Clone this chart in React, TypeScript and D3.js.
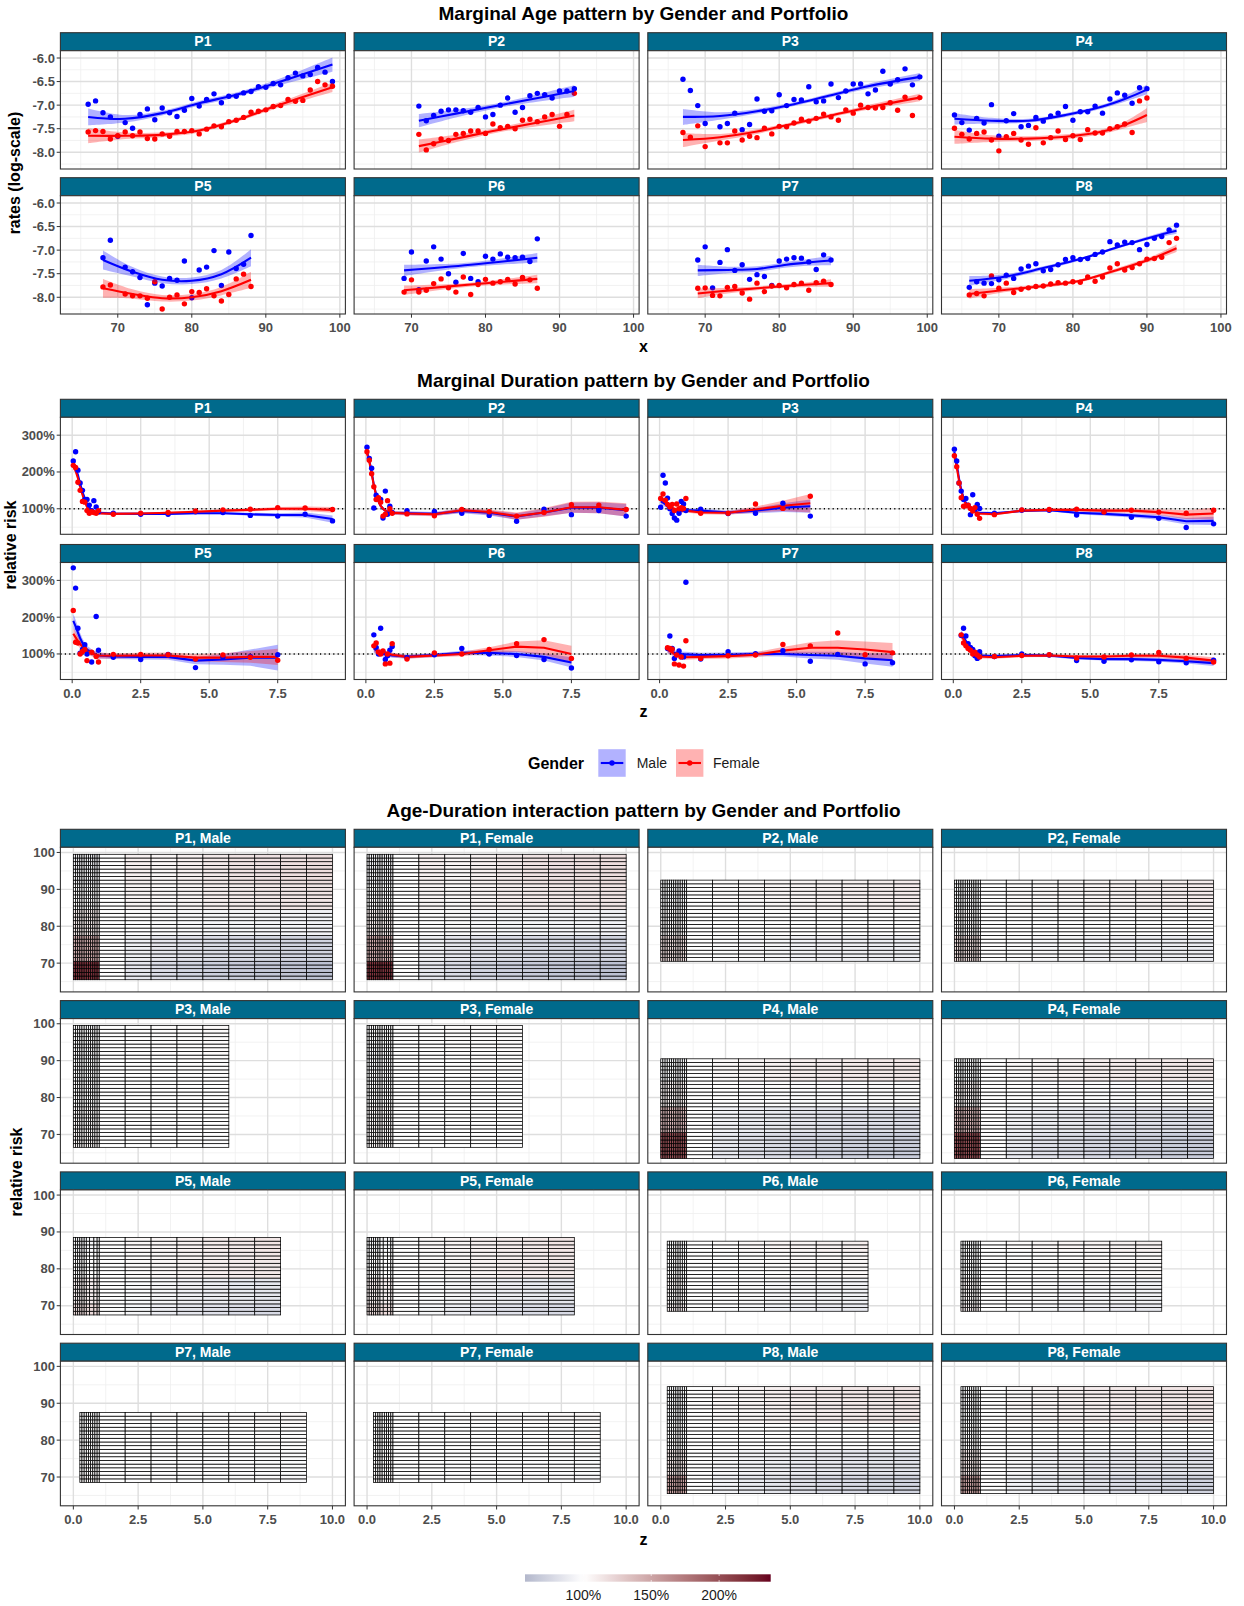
import React from "react";
import * as d3 from "d3";

const FONT = "'Liberation Sans', Arial, Helvetica, sans-serif";

// ---------------- DATA ----------------
const PORTFOLIOS = ["P1", "P2", "P3", "P4", "P5", "P6", "P7", "P8"];
const GENDERS = ["Male", "Female"];
const GENDER_COLORS = ["#0000ff", "#ff0000"];

// Marginal age pattern: log-rates per integer age, first age in AGE_START
const AGE_START = [66, 71, 67, 64, 68, 69, 69, 66];
const AGE_MALE_P1 = [-6.98, -6.91, -7.16, -7.25, -7.66, -7.37, -7.49, -7.2, -7.08, -7.31, -7.06, -7.16, -7.24, -7.11, -6.86, -7.02, -6.88, -6.76, -6.95, -6.81, -6.81, -6.74, -6.71, -6.61, -6.62, -6.54, -6.57, -6.42, -6.32, -6.38, -6.35, -6.2, -6.3, -6.5];
const AGE_FEMALE_P1 = [-7.57, -7.54, -7.56, -7.72, -7.65, -7.57, -7.65, -7.57, -7.71, -7.72, -7.61, -7.66, -7.56, -7.56, -7.54, -7.61, -7.51, -7.44, -7.46, -7.35, -7.32, -7.26, -7.15, -7.13, -7.1, -7.03, -7.01, -6.88, -6.92, -6.9, -6.68, -6.5, -6.57, -6.6];
const AGE_MALE_P2 = [-7.02, -7.33, -7.22, -7.13, -7.1, -7.1, -7.12, -7.15, -7.05, -7.25, -7.2, -7.0, -6.85, -7.15, -7.05, -6.8, -6.75, -6.78, -6.85, -6.7, -6.7, -6.65];
const AGE_FEMALE_P2 = [-7.62, -7.95, -7.82, -7.72, -7.75, -7.62, -7.6, -7.55, -7.55, -7.6, -7.4, -7.48, -7.45, -7.5, -7.32, -7.3, -7.35, -7.25, -7.2, -7.45, -7.2, -6.75];
const AGE_MALE_P3 = [-6.45, -6.69, -7.01, -7.39, null, -7.46, -7.39, -7.17, -7.52, -7.41, -6.87, -7.13, -7.12, -6.78, -7.01, -6.88, -6.89, -6.61, -6.93, -6.91, -6.55, -6.84, -6.7, -6.55, -6.55, -6.76, -6.68, -6.28, -6.55, -6.46, -6.23, -6.57, -6.4];
const AGE_FEMALE_P3 = [-7.58, -7.68, -7.44, -7.88, null, -7.8, -7.8, -7.55, -7.74, -7.66, -7.69, -7.49, -7.61, -7.45, -7.46, -7.38, -7.3, -7.34, -7.28, -7.19, -7.25, -7.32, -7.1, -7.17, -7.0, -7.05, -7.06, -7.05, -6.95, -7.11, -6.83, -7.22, -6.84];
const AGE_MALE_P4 = [-7.21, -7.37, -7.53, -7.28, -7.38, -6.99, -7.66, -7.33, -7.18, -7.46, -7.43, -7.26, -7.34, -7.23, -7.17, -7.03, -7.32, -7.14, -7.14, -7.02, -7.17, -6.87, -6.74, -6.79, -6.96, -6.63, -6.65];
const AGE_FEMALE_P4 = [-7.49, -7.62, -7.72, -7.6, -7.57, -7.74, -7.97, -7.67, -7.6, -7.74, -7.83, -7.48, -7.8, -7.69, -7.55, -7.73, -7.65, -7.73, -7.52, -7.59, -7.59, -7.5, -7.46, -7.4, -7.58, -6.91, -6.85];
const AGE_MALE_P5 = [-7.16, -6.79, null, -7.36, -7.46, -7.58, -8.16, -7.7, -7.76, -7.6, -7.64, -7.23, -8.01, -7.42, -7.36, -7.01, -7.75, -7.04, -7.39, -7.3, -6.69];
const AGE_FEMALE_P5 = [-7.78, -7.74, null, -7.93, -7.97, -7.97, -8.02, -7.67, -8.25, -8.0, -7.95, -8.14, -7.88, -7.9, -7.82, -7.97, -8.08, -7.94, -7.61, -7.51, -7.77];
const AGE_MALE_P6 = [-7.6, -7.04, -7.84, -7.23, -6.93, -7.19, -7.5, -7.68, -7.07, -7.6, -7.67, -7.13, -7.19, -7.08, -7.15, -7.16, -7.15, -7.24, -6.76];
const AGE_FEMALE_P6 = [-7.89, -7.63, -7.89, -7.85, -7.71, -7.61, -7.8, -7.89, -7.57, -7.94, -7.73, -7.62, -7.7, -7.67, -7.62, -7.72, -7.58, -7.63, -7.81];
const AGE_MALE_P7 = [-7.21, -6.93, -7.8, -7.26, -6.99, -7.43, -7.31, -7.62, -7.52, -7.56, -7.75, -7.23, -7.19, -7.16, -7.17, -7.25, -7.41, -7.1, -7.21];
const AGE_FEMALE_P7 = [-7.81, -7.8, -7.96, -7.97, -7.79, -7.77, -7.91, -8.04, -7.7, -7.88, -7.76, -7.75, -7.8, -7.73, -7.7, -7.85, -7.69, -7.66, -7.73];
const AGE_MALE_P8 = [-7.79, -7.67, -7.7, -7.71, -7.63, -7.53, -7.6, -7.4, -7.34, -7.29, -7.44, -7.41, -7.31, -7.2, -7.16, -7.2, -7.18, -7.09, -7.04, -6.82, -6.89, -6.83, -6.84, -6.99, -6.88, -6.75, -6.71, -6.57, -6.47];
const AGE_FEMALE_P8 = [-7.95, -7.92, -7.97, -7.55, -7.81, -7.7, -7.9, -7.83, -7.8, -7.77, -7.76, -7.72, -7.69, -7.7, -7.67, -7.68, -7.57, -7.66, -7.57, -7.38, -7.29, -7.42, -7.37, -7.29, -7.19, -7.18, -7.15, -6.84, -6.75];
const AGE_MALE = [AGE_MALE_P1, AGE_MALE_P2, AGE_MALE_P3, AGE_MALE_P4, AGE_MALE_P5, AGE_MALE_P6, AGE_MALE_P7, AGE_MALE_P8];
const AGE_FEMALE = [AGE_FEMALE_P1, AGE_FEMALE_P2, AGE_FEMALE_P3, AGE_FEMALE_P4, AGE_FEMALE_P5, AGE_FEMALE_P6, AGE_FEMALE_P7, AGE_FEMALE_P8];

// Smoothed age curves at knot ages, with confidence half-widths
const AGE_FIT_AGES = [
  [66, 71, 76, 81, 86, 91, 99],
  [71, 76, 81, 86, 92],
  [67, 72, 77, 82, 87, 92, 99],
  [64, 69, 74, 79, 84, 87, 90],
  [68, 72, 76, 80, 84, 88],
  [69, 78, 87],
  [69, 73, 77, 81, 84, 87],
  [66, 71, 76, 81, 86, 91, 94],
];
const AGE_FIT_MALE = [
  [-7.25, -7.29, -7.17, -6.96, -6.78, -6.55, -6.14],
  [-7.33, -7.18, -7.03, -6.88, -6.7],
  [-7.25, -7.23, -7.13, -6.98, -6.79, -6.6, -6.4],
  [-7.29, -7.33, -7.33, -7.21, -7.03, -6.87, -6.67],
  [-7.21, -7.46, -7.63, -7.65, -7.51, -7.16],
  [-7.43, -7.31, -7.16],
  [-7.43, -7.42, -7.4, -7.31, -7.26, -7.22],
  [-7.65, -7.56, -7.38, -7.19, -6.94, -6.71, -6.59],
];
const AGE_FIT_FEMALE = [
  [-7.65, -7.65, -7.63, -7.54, -7.32, -7.04, -6.62],
  [-7.87, -7.71, -7.55, -7.4, -7.22],
  [-7.74, -7.68, -7.56, -7.39, -7.22, -7.05, -6.84],
  [-7.67, -7.71, -7.71, -7.67, -7.56, -7.42, -7.21],
  [-7.81, -7.93, -8.02, -8.0, -7.87, -7.63],
  [-7.85, -7.73, -7.61],
  [-7.92, -7.86, -7.81, -7.76, -7.73, -7.7],
  [-7.93, -7.84, -7.76, -7.65, -7.42, -7.16, -6.96],
];
const AGE_BAND_MALE = [
  [0.18, 0.08, 0.05, 0.05, 0.05, 0.06, 0.15],
  [0.14, 0.08, 0.05, 0.07, 0.12],
  [0.17, 0.08, 0.05, 0.04, 0.04, 0.05, 0.08],
  [0.12, 0.06, 0.04, 0.04, 0.04, 0.06, 0.1],
  [0.2, 0.1, 0.07, 0.07, 0.09, 0.18],
  [0.12, 0.05, 0.1],
  [0.12, 0.07, 0.06, 0.06, 0.07, 0.1],
  [0.1, 0.05, 0.04, 0.03, 0.03, 0.04, 0.06],
];
const AGE_BAND_FEMALE = [
  [0.16, 0.07, 0.05, 0.04, 0.04, 0.05, 0.1],
  [0.14, 0.08, 0.05, 0.07, 0.12],
  [0.15, 0.07, 0.05, 0.04, 0.04, 0.05, 0.08],
  [0.15, 0.07, 0.05, 0.05, 0.05, 0.07, 0.15],
  [0.2, 0.1, 0.07, 0.07, 0.09, 0.17],
  [0.1, 0.04, 0.09],
  [0.1, 0.06, 0.04, 0.04, 0.05, 0.08],
  [0.1, 0.05, 0.04, 0.03, 0.04, 0.05, 0.08],
];

// Marginal duration pattern (relative risk, %)
const Z_MONTHS = [0.04, 0.125, 0.21, 0.29, 0.375, 0.46, 0.54, 0.625, 0.71, 0.79, 0.875, 0.96];
const Z_YEARS = [1.5, 2.5, 3.5, 4.5, 5.5, 6.5, 7.5, 8.5, 9.5];
const DUR_MONTHS = [
  [0, 1, 2, 3, 4, 5, 6, 7, 8, 9, 10, 11],
  [0, 1, 2, 3, 4, 5, 6, 7, 8, 9, 10, 11],
  [0, 1, 2, 3, 4, 5, 6, 7, 8, 9, 10, 11],
  [0, 1, 2, 3, 4, 5, 6, 7, 8, 9, 10, 11],
  [0, 1, 2, 3, 4, 5, 6, 8, 10, 11],
  [3, 4, 5, 6, 7, 8, 9, 10, 11],
  [3, 4, 5, 6, 7, 8, 9, 10, 11],
  [3, 4, 5, 6, 7, 8, 9, 10, 11],
];
const DUR_YEARS = [9, 9, 5, 9, 7, 7, 8, 9];

const DUR_M_PTS_P1 = [230, 255, 205, 170, 150, 125, 125, 110, 95, 122, 105, 92, 88, 85, 85, 92, 90, 82, 80, 85, 67];
const DUR_M_FIT_P1 = [225, 212, 192, 168, 146, 128, 114, 104, 97, 93, 90, 89, 87, 86, 86, 88, 88, 85, 83, 83, 72];
const DUR_M_SE_P1 = [8, 7, 6, 5, 5, 4, 4, 4, 4, 4, 4, 4, 3, 3, 3, 3, 3, 4, 5, 7, 10];
const DUR_F_PTS_P1 = [218, 212, 172, 150, 120, 118, 95, 88, 92, 90, 88, 95, 85, 88, 90, 94, 97, 99, 103, 102, 98];
const DUR_F_FIT_P1 = [215, 203, 183, 160, 138, 119, 105, 96, 92, 90, 89, 88, 86, 87, 89, 92, 95, 97, 100, 100, 97];
const DUR_F_SE_P1 = [8, 7, 6, 5, 5, 4, 4, 4, 4, 4, 4, 4, 3, 3, 3, 3, 3, 4, 5, 6, 8];

const DUR_M_PTS_P2 = [267, 237, 210, 102, 137, 128, 125, 75, 148, 85, 107, 90, 95, 93, 88, 82, 66, 99, 84, 95, 80];
const DUR_M_FIT_P2 = [255, 232, 200, 165, 138, 120, 108, 100, 95, 92, 90, 89, 88, 86, 94, 89, 79, 90, 103, 103, 96];
const DUR_M_SE_P2 = [10, 9, 8, 7, 6, 6, 5, 5, 5, 5, 5, 5, 5, 5, 6, 7, 9, 10, 14, 15, 17];
const DUR_F_PTS_P2 = [255, 232, 195, 160, 125, 130, 118, 80, 85, 122, 100, 88, 86, 81, 98, 92, 80, 90, 111, 110, 98];
const DUR_F_FIT_P2 = [250, 228, 196, 163, 137, 120, 108, 100, 95, 92, 90, 89, 87, 85, 96, 91, 80, 90, 104, 104, 97];
const DUR_F_SE_P2 = [10, 9, 8, 7, 6, 6, 5, 5, 5, 5, 5, 5, 5, 5, 6, 7, 10, 12, 15, 16, 18];

const DUR_M_PTS_P3 = [104, 191, 170, 129, 100, 87, 75, 69, 88, 120, 113, 95, 99, 87, 88, 115, 80];
const DUR_M_FIT_P3 = [120, 117, 112, 106, 101, 97, 94, 93, 93, 94, 95, 96, 95, 90, 95, 103, 107];
const DUR_M_SE_P3 = [10, 9, 8, 7, 6, 6, 5, 5, 5, 5, 5, 5, 5, 5, 7, 12, 18];
const DUR_F_PTS_P3 = [128, 140, 123, 112, 105, 112, 95, 113, 100, 103, 101, 128, 88, 88, 113, 101, 134];
const DUR_F_FIT_P3 = [125, 122, 118, 112, 107, 103, 100, 98, 96, 95, 95, 95, 90, 89, 98, 108, 115];
const DUR_F_SE_P3 = [10, 9, 8, 7, 6, 6, 5, 5, 5, 5, 5, 5, 5, 5, 8, 14, 25];

const DUR_M_PTS_P4 = [262, 230, 170, 148, 125, 128, 110, 84, 138, 97, 112, 101, 88, 96, 96, 83, 91, 77, 74, 49, 59];
const DUR_M_FIT_P4 = [255, 222, 182, 152, 130, 116, 106, 99, 95, 92, 90, 89, 88, 94, 96, 89, 86, 82, 77, 66, 67];
const DUR_M_SE_P4 = [8, 7, 6, 5, 5, 4, 4, 4, 4, 4, 4, 4, 3, 3, 3, 4, 5, 6, 7, 9, 11];
const DUR_F_PTS_P4 = [244, 214, 170, 130, 107, 108, 110, 101, 94, 103, 85, 74, 84, 97, 98, 99, 91, 96, 91, 88, 96];
const DUR_F_FIT_P4 = [245, 213, 176, 148, 126, 113, 104, 98, 94, 91, 89, 87, 85, 95, 97, 97, 95, 95, 91, 84, 87];
const DUR_F_SE_P4 = [8, 7, 6, 5, 5, 4, 4, 4, 4, 4, 4, 4, 3, 3, 4, 4, 5, 6, 8, 12, 16];

const DUR_M_PTS_P5 = [334, 279, 170, 102, 112, 125, 100, 78, 202, 110, 91, 85, 99, 63, 92, 93, 98];
const DUR_M_FIT_P5 = [190, 175, 158, 143, 130, 120, 112, 104, 98, 96, 93, 92, 92, 82, 85, 90, 90];
const DUR_M_SE_P5 = [20, 18, 16, 14, 12, 11, 10, 9, 8, 8, 7, 7, 8, 10, 14, 22, 35];
const DUR_F_PTS_P5 = [218, 132, 130, 100, 107, 112, 82, 105, 93, 78, 99, 99, 98, 86, 97, 91, 83];
const DUR_F_FIT_P5 = [155, 145, 135, 127, 120, 113, 107, 102, 98, 96, 95, 96, 96, 90, 90, 92, 92];
const DUR_F_SE_P5 = [15, 14, 13, 12, 11, 10, 9, 8, 8, 8, 7, 7, 8, 10, 12, 16, 22];

const DUR_M_PTS_P6 = [152, 118, 100, 170, 105, 85, 95, 110, 120, 90, 98, 115, 100, 96, 85, 62];
const DUR_M_FIT_P6 = [115, 110, 106, 103, 100, 99, 98, 97, 96, 93, 97, 103, 103, 100, 92, 77];
const DUR_M_SE_P6 = [12, 10, 9, 8, 7, 7, 6, 6, 6, 5, 5, 6, 7, 8, 10, 14];
const DUR_F_PTS_P6 = [122, 130, 105, 100, 108, 73, 100, 75, 128, 86, 103, 100, 112, 128, 139, 88];
const DUR_F_FIT_P6 = [118, 112, 108, 105, 103, 101, 100, 99, 98, 92, 96, 100, 110, 120, 117, 100];
const DUR_F_SE_P6 = [12, 10, 9, 8, 7, 7, 6, 6, 6, 5, 5, 6, 8, 14, 20, 22];

const DUR_M_PTS_P7 = [115, 149, 115, 88, 99, 108, 92, 92, 295, 86, 106, 101, 109, 80, 99, 73, 76];
const DUR_M_FIT_P7 = [112, 108, 105, 103, 101, 100, 100, 99, 99, 97, 98, 100, 100, 97, 95, 88, 83];
const DUR_M_SE_P7 = [10, 9, 8, 8, 7, 7, 7, 7, 7, 6, 6, 6, 7, 9, 11, 14, 18];
const DUR_F_PTS_P7 = [117, 115, 113, 73, 97, 70, 92, 67, 136, 88, 95, 97, 126, 122, 157, 98, 103];
const DUR_F_FIT_P7 = [113, 108, 104, 100, 97, 95, 93, 92, 91, 92, 94, 98, 109, 117, 117, 112, 105];
const DUR_F_SE_P7 = [10, 9, 8, 8, 7, 7, 7, 7, 7, 6, 6, 7, 10, 15, 20, 22, 25];

const DUR_M_PTS_P8 = [150, 170, 149, 128, 118, 112, 95, 88, 106, 93, 100, 97, 82, 80, 84, 79, 76, 83];
const DUR_M_FIT_P8 = [155, 145, 135, 125, 116, 108, 102, 98, 96, 94, 97, 96, 89, 86, 86, 84, 80, 75];
const DUR_M_SE_P8 = [10, 9, 8, 7, 6, 5, 5, 5, 5, 4, 4, 4, 4, 4, 5, 5, 6, 8];
const DUR_F_PTS_P8 = [152, 130, 122, 115, 110, 100, 105, 97, 92, 93, 96, 98, 89, 92, 97, 104, 88, 78];
const DUR_F_FIT_P8 = [150, 140, 130, 120, 112, 105, 100, 96, 93, 91, 95, 96, 93, 93, 95, 95, 90, 82];
const DUR_F_SE_P8 = [10, 9, 8, 7, 6, 5, 5, 5, 5, 4, 4, 4, 4, 4, 5, 6, 7, 9];

const DUR_PTS = [
  [DUR_M_PTS_P1, DUR_F_PTS_P1], [DUR_M_PTS_P2, DUR_F_PTS_P2], [DUR_M_PTS_P3, DUR_F_PTS_P3], [DUR_M_PTS_P4, DUR_F_PTS_P4],
  [DUR_M_PTS_P5, DUR_F_PTS_P5], [DUR_M_PTS_P6, DUR_F_PTS_P6], [DUR_M_PTS_P7, DUR_F_PTS_P7], [DUR_M_PTS_P8, DUR_F_PTS_P8],
];
const DUR_FIT = [
  [DUR_M_FIT_P1, DUR_F_FIT_P1], [DUR_M_FIT_P2, DUR_F_FIT_P2], [DUR_M_FIT_P3, DUR_F_FIT_P3], [DUR_M_FIT_P4, DUR_F_FIT_P4],
  [DUR_M_FIT_P5, DUR_F_FIT_P5], [DUR_M_FIT_P6, DUR_F_FIT_P6], [DUR_M_FIT_P7, DUR_F_FIT_P7], [DUR_M_FIT_P8, DUR_F_FIT_P8],
];
const DUR_SE = [
  [DUR_M_SE_P1, DUR_F_SE_P1], [DUR_M_SE_P2, DUR_F_SE_P2], [DUR_M_SE_P3, DUR_F_SE_P3], [DUR_M_SE_P4, DUR_F_SE_P4],
  [DUR_M_SE_P5, DUR_F_SE_P5], [DUR_M_SE_P6, DUR_F_SE_P6], [DUR_M_SE_P7, DUR_F_SE_P7], [DUR_M_SE_P8, DUR_F_SE_P8],
];

// Age-duration interaction (relative risk %): rows = age knots, cols = first year, then years 1-2, 2-3, ...
const HEAT_AGE_KNOTS = [67, 74, 81, 88, 95];
const HEAT_P1 = [
  [215, 100, 86, 80, 75, 72, 69, 67, 65, 63],
  [145, 100, 91, 86, 83, 80, 78, 76, 75, 74],
  [112, 100, 99, 97, 96, 95, 95, 94, 94, 93],
  [100, 100, 106, 104, 106, 109, 111, 112, 113, 114],
  [92, 100, 108, 105, 108, 112, 115, 116, 117, 118],
];
const HEAT_P2 = [
  [140, 100, 96, 94, 92, 90, 88, 87, 86, 85],
  [120, 100, 98, 96, 95, 93, 92, 91, 90, 90],
  [104, 100, 100, 100, 100, 100, 100, 100, 100, 100],
  [95, 100, 102, 104, 105, 106, 107, 108, 109, 110],
  [95, 100, 102, 104, 105, 106, 107, 108, 109, 110],
];
const HEAT_P3 = [
  [105, 100, 100, 100, 100, 99],
  [103, 100, 100, 100, 100, 100],
  [100, 100, 100, 100, 100, 100],
  [98, 100, 100, 100, 101, 101],
  [97, 100, 100, 101, 101, 102],
];
const HEAT_P4 = [
  [200, 100, 88, 83, 80, 77, 75, 73, 71, 70],
  [140, 100, 93, 90, 88, 86, 84, 83, 82, 81],
  [108, 100, 100, 99, 99, 98, 98, 98, 97, 97],
  [95, 100, 104, 106, 107, 109, 110, 111, 112, 113],
  [95, 100, 104, 106, 107, 109, 110, 111, 112, 113],
];
const HEAT_P5 = [
  [120, 100, 95, 90, 86, 83, 80, 78],
  [110, 100, 98, 95, 92, 90, 88, 86],
  [100, 100, 102, 104, 106, 108, 110, 112],
  [95, 100, 103, 105, 107, 109, 111, 113],
  [95, 100, 103, 105, 107, 109, 111, 113],
];
const HEAT_P6 = [
  [110, 100, 98, 95, 93, 91, 89, 87],
  [105, 100, 99, 97, 96, 95, 94, 93],
  [100, 100, 100, 101, 101, 102, 102, 103],
  [98, 100, 101, 103, 104, 105, 107, 108],
  [98, 100, 101, 103, 104, 105, 107, 108],
];
const HEAT_P7 = [
  [103, 100, 99, 99, 98, 98, 97, 97, 96],
  [101, 100, 100, 99, 99, 99, 99, 98, 98],
  [100, 100, 100, 100, 100, 100, 100, 101, 101],
  [99, 100, 100, 101, 101, 102, 102, 103, 104],
  [99, 100, 100, 101, 101, 102, 102, 103, 104],
];
const HEAT_P8 = [
  [150, 100, 93, 88, 85, 82, 80, 78, 76, 74],
  [115, 100, 96, 93, 91, 89, 87, 86, 85, 84],
  [100, 100, 100, 100, 100, 100, 100, 100, 100, 100],
  [95, 100, 103, 105, 107, 108, 110, 111, 112, 113],
  [95, 100, 104, 106, 108, 110, 112, 113, 114, 115],
];
const HEAT = [HEAT_P1, HEAT_P2, HEAT_P3, HEAT_P4, HEAT_P5, HEAT_P6, HEAT_P7, HEAT_P8];
const HEAT_COLOR_DOMAIN = [57, 100, 238];
const HEAT_COLORS = ["#b3b8cc", "#ffffff", "#67001f"];

// ticks
const AGE_X_MAJOR = [70, 80, 90, 100];
const AGE_X_MINOR = [65, 75, 85, 95];
const AGE_Y_MAJOR = [-8, -7.5, -7, -6.5, -6];
const AGE_Y_MINOR = [-8.25, -7.75, -7.25, -6.75, -6.25];
const DUR_X_MAJOR = [0, 2.5, 5, 7.5];
const DUR_X_MINOR = [1.25, 3.75, 6.25, 8.75];
const DUR_Y_MAJOR = [100, 200, 300];
const DUR_Y_MINOR = [50, 150, 250];
const HEAT_X_MAJOR = [0, 2.5, 5, 7.5, 10];
const HEAT_X_MINOR = [1.25, 3.75, 6.25, 8.75];
const HEAT_Y_MAJOR = [70, 80, 90, 100];
const HEAT_Y_MINOR = [65, 75, 85, 95];
const LEGEND_TICKS = [100, 150, 200];

// ---------------- LAYOUT ----------------
const COL_X = [60.4, 354.1, 647.8, 941.5];
const PW = 285;
const STRIP_H = 18;
const AGE_ROW_TOP = [32.7, 177.7];
const AGE_PH = 118.3;
const DUR_ROW_TOP = [399.3, 544.5];
const DUR_PH = 117;
const HEAT_ROW_TOP = [829.3, 1000.6, 1171.9, 1343.2];
const HEAT_PH = 144.6;
const CENTER_X = 643.5;

const STRIP_FILL = "#006a8c";
const BORDER = "#333333";
const GRID_MAJOR = "#dedede";
const GRID_MINOR = "#efefef";
const TICK_TXT = "#4d4d4d";

// ---------------- helpers ----------------
function Strip({ x, y, label }: { x: number; y: number; label: string }) {
  return (
    <g>
      <rect x={x} y={y} width={PW} height={STRIP_H} fill={STRIP_FILL} stroke={BORDER} strokeWidth={1.1} />
      <text x={x + PW / 2} y={y + STRIP_H / 2 + 1} textAnchor="middle" dominantBaseline="middle" fill="#ffffff" fontSize={14} fontWeight="bold" fontFamily={FONT}>{label}</text>
    </g>
  );
}

function Grid({ x, y, h, xs, ys, xMajor, xMinor, yMajor, yMinor }: any) {
  return (
    <g>
      {xMinor.map((v: number) => <line key={"xm" + v} x1={xs(v)} x2={xs(v)} y1={y} y2={y + h} stroke={GRID_MINOR} strokeWidth={0.8} />)}
      {yMinor.map((v: number) => <line key={"ym" + v} x1={x} x2={x + PW} y1={ys(v)} y2={ys(v)} stroke={GRID_MINOR} strokeWidth={0.8} />)}
      {xMajor.map((v: number) => <line key={"xM" + v} x1={xs(v)} x2={xs(v)} y1={y} y2={y + h} stroke={GRID_MAJOR} strokeWidth={1.4} />)}
      {yMajor.map((v: number) => <line key={"yM" + v} x1={x} x2={x + PW} y1={ys(v)} y2={ys(v)} stroke={GRID_MAJOR} strokeWidth={1.4} />)}
    </g>
  );
}

function YAxis({ x, ys, ticks, fmt }: any) {
  return (
    <g>
      {ticks.map((v: number) => (
        <g key={v}>
          <line x1={x - 3.7} x2={x} y1={ys(v)} y2={ys(v)} stroke={BORDER} strokeWidth={1} />
          <text x={x - 5.5} y={ys(v)} textAnchor="end" dominantBaseline="central" fill={TICK_TXT} fontSize={13} fontWeight="bold" fontFamily={FONT}>{fmt(v)}</text>
        </g>
      ))}
    </g>
  );
}

function XAxis({ y, xs, ticks, fmt }: any) {
  return (
    <g>
      {ticks.map((v: number) => (
        <g key={v}>
          <line x1={xs(v)} x2={xs(v)} y1={y} y2={y + 3.7} stroke={BORDER} strokeWidth={1} />
          <text x={xs(v)} y={y + 13.5} textAnchor="middle" dominantBaseline="central" fill={TICK_TXT} fontSize={13} fontWeight="bold" fontFamily={FONT}>{fmt(v)}</text>
        </g>
      ))}
    </g>
  );
}

// ---------------- Age section ----------------
function AgePanel({ p }: { p: number }) {
  const col = p % 4, row = Math.floor(p / 4);
  const x0 = COL_X[col];
  const top = AGE_ROW_TOP[row];
  const y0 = top + STRIP_H;
  const xs = d3.scaleLinear().domain([62.25, 100.75]).range([x0, x0 + PW]);
  const ys = d3.scaleLinear().domain([-8.355, -5.845]).range([y0 + AGE_PH, y0]);
  const fits = [AGE_FIT_MALE[p], AGE_FIT_FEMALE[p]];
  const bands = [AGE_BAND_MALE[p], AGE_BAND_FEMALE[p]];
  const series = [AGE_MALE[p], AGE_FEMALE[p]].map((vals, g) => {
    const pts = vals.map((v, i) => ({ x: AGE_START[p] + i, y: v })).filter((d) => d.y !== null) as { x: number; y: number }[];
    const fit = AGE_FIT_AGES[p].map((a, i) => ({ x: a, y: fits[g][i], lo: fits[g][i] - bands[g][i], hi: fits[g][i] + bands[g][i] }));
    return { pts, fit };
  });
  const curve = d3.curveCatmullRom.alpha(0.5);
  const area = d3.area<any>().x((d) => xs(d.x)).y0((d) => ys(d.lo)).y1((d) => ys(d.hi)).curve(curve);
  const line = d3.line<any>().x((d) => xs(d.x)).y((d) => ys(d.y)).curve(curve);
  const clipId = "clipAge" + p;
  return (
    <g>
      <Strip x={x0} y={top} label={PORTFOLIOS[p]} />
      <rect x={x0} y={y0} width={PW} height={AGE_PH} fill="#ffffff" />
      <Grid x={x0} y={y0} h={AGE_PH} xs={xs} ys={ys} xMajor={AGE_X_MAJOR} xMinor={AGE_X_MINOR} yMajor={AGE_Y_MAJOR} yMinor={AGE_Y_MINOR} />
      <clipPath id={clipId}><rect x={x0} y={y0} width={PW} height={AGE_PH} /></clipPath>
      <g clipPath={`url(#${clipId})`}>
        {series.map((s, g) => s.pts.map((d, i) => (
          <circle key={g + "-" + i} cx={xs(d.x)} cy={ys(d.y)} r={2.7} fill={GENDER_COLORS[g]} />
        )))}
        {series.map((s, g) => <path key={"a" + g} d={area(s.fit) as string} fill={GENDER_COLORS[g]} fillOpacity={0.3} />)}
        {series.map((s, g) => <path key={"l" + g} d={line(s.fit) as string} fill="none" stroke={GENDER_COLORS[g]} strokeWidth={2.1} />)}
      </g>
      <rect x={x0} y={y0} width={PW} height={AGE_PH} fill="none" stroke={BORDER} strokeWidth={1.1} />
      {col === 0 && <YAxis x={x0} ys={ys} ticks={AGE_Y_MAJOR} fmt={(v: number) => v.toFixed(1)} />}
      {row === 1 && <XAxis y={y0 + AGE_PH} xs={xs} ticks={AGE_X_MAJOR} fmt={(v: number) => String(v)} />}
    </g>
  );
}

// ---------------- Duration section ----------------
function durZ(p: number) {
  return DUR_MONTHS[p].map((i) => Z_MONTHS[i]).concat(Z_YEARS.slice(0, DUR_YEARS[p]));
}

function DurPanel({ p }: { p: number }) {
  const col = p % 4, row = Math.floor(p / 4);
  const x0 = COL_X[col];
  const top = DUR_ROW_TOP[row];
  const y0 = top + STRIP_H;
  const xs = d3.scaleLinear().domain([-0.43, 9.97]).range([x0, x0 + PW]);
  const ys = d3.scaleLinear().domain([30.6, 348.6]).range([y0 + DUR_PH, y0]);
  const zs = durZ(p);
  const series = [0, 1].map((g) => zs.map((z, i) => ({
    x: z, pt: DUR_PTS[p][g][i], y: DUR_FIT[p][g][i], lo: DUR_FIT[p][g][i] - DUR_SE[p][g][i], hi: DUR_FIT[p][g][i] + DUR_SE[p][g][i],
  })));
  const area = d3.area<any>().x((d) => xs(d.x)).y0((d) => ys(d.lo)).y1((d) => ys(d.hi));
  const line = d3.line<any>().x((d) => xs(d.x)).y((d) => ys(d.y));
  const clipId = "clipDur" + p;
  return (
    <g>
      <Strip x={x0} y={top} label={PORTFOLIOS[p]} />
      <rect x={x0} y={y0} width={PW} height={DUR_PH} fill="#ffffff" />
      <Grid x={x0} y={y0} h={DUR_PH} xs={xs} ys={ys} xMajor={DUR_X_MAJOR} xMinor={DUR_X_MINOR} yMajor={DUR_Y_MAJOR} yMinor={DUR_Y_MINOR} />
      <clipPath id={clipId}><rect x={x0} y={y0} width={PW} height={DUR_PH} /></clipPath>
      <g clipPath={`url(#${clipId})`}>
        {series.map((s, g) => <path key={"a" + g} d={area(s) as string} fill={GENDER_COLORS[g]} fillOpacity={0.3} />)}
        <line x1={x0} x2={x0 + PW} y1={ys(100)} y2={ys(100)} stroke="#000" strokeWidth={1.4} strokeDasharray="1.2,3.2" />
        {series.map((s, g) => <path key={"l" + g} d={line(s) as string} fill="none" stroke={GENDER_COLORS[g]} strokeWidth={2.1} />)}
        {series.map((s, g) => s.map((d, i) => (
          <circle key={g + "-" + i} cx={xs(d.x)} cy={ys(d.pt)} r={2.7} fill={GENDER_COLORS[g]} />
        )))}
      </g>
      <rect x={x0} y={y0} width={PW} height={DUR_PH} fill="none" stroke={BORDER} strokeWidth={1.1} />
      {col === 0 && <YAxis x={x0} ys={ys} ticks={DUR_Y_MAJOR} fmt={(v: number) => v + "%"} />}
      {row === 1 && <XAxis y={y0 + DUR_PH} xs={xs} ticks={DUR_X_MAJOR} fmt={(v: number) => v.toFixed(1)} />}
    </g>
  );
}

// ---------------- Heatmap section ----------------
const heatColor = d3.scaleLinear<string>().domain(HEAT_COLOR_DOMAIN).range(HEAT_COLORS).interpolate(d3.interpolateLab).clamp(true);

function nearestKnot(age: number) {
  let best = 0;
  HEAT_AGE_KNOTS.forEach((k, i) => { if (Math.abs(age - k) < Math.abs(age - HEAT_AGE_KNOTS[best])) best = i; });
  return best;
}

function HeatPanel({ idx }: { idx: number }) {
  const p = Math.floor(idx / 2), g = idx % 2;
  const col = idx % 4, row = Math.floor(idx / 4);
  const x0 = COL_X[col];
  const top = HEAT_ROW_TOP[row];
  const y0 = top + STRIP_H;
  const xs = d3.scaleLinear().domain([-0.5, 10.5]).range([x0, x0 + PW]);
  const ys = d3.scaleLinear().domain([62.2, 101.4]).range([y0 + HEAT_PH, y0]);
  const centers = DUR_MONTHS[p].map((i) => Z_MONTHS[i]);
  const cols: { a: number; b: number; c: number }[] = [];
  centers.forEach((c, i) => {
    const a = i === 0 ? Math.floor(c * 12) / 12 : (centers[i - 1] + c) / 2;
    const b = i === centers.length - 1 ? 1 : (c + centers[i + 1]) / 2;
    cols.push({ a, b, c: 0 });
  });
  for (let k = 1; k <= DUR_YEARS[p]; k++) cols.push({ a: k, b: k + 1, c: k });
  const ages = AGE_MALE[p].map((_, i) => AGE_START[p] + i);
  const cells: any[] = [];
  ages.forEach((age) => {
    const band = nearestKnot(age);
    cols.forEach((cc, j) => {
      const v = HEAT[p][band][cc.c];
      cells.push(
        <rect key={age + "-" + j} x={xs(cc.a)} y={ys(age + 0.5)} width={xs(cc.b) - xs(cc.a)} height={ys(age - 0.5) - ys(age + 0.5)}
          fill={heatColor(v)} stroke="#000" strokeWidth={0.75} />
      );
    });
  });
  return (
    <g>
      <Strip x={x0} y={top} label={PORTFOLIOS[p] + ", " + GENDERS[g]} />
      <rect x={x0} y={y0} width={PW} height={HEAT_PH} fill="#ffffff" />
      <Grid x={x0} y={y0} h={HEAT_PH} xs={xs} ys={ys} xMajor={HEAT_X_MAJOR} xMinor={HEAT_X_MINOR} yMajor={HEAT_Y_MAJOR} yMinor={HEAT_Y_MINOR} />
      <g>{cells}</g>
      <rect x={x0} y={y0} width={PW} height={HEAT_PH} fill="none" stroke={BORDER} strokeWidth={1.1} />
      {col === 0 && <YAxis x={x0} ys={ys} ticks={HEAT_Y_MAJOR} fmt={(v: number) => String(v)} />}
      {row === 3 && <XAxis y={y0 + HEAT_PH} xs={xs} ticks={HEAT_X_MAJOR} fmt={(v: number) => v.toFixed(1)} />}
    </g>
  );
}

function Title({ y, text }: { y: number; text: string }) {
  return <text x={CENTER_X} y={y} textAnchor="middle" dominantBaseline="central" fontSize={19} fontWeight="bold" fontFamily={FONT} fill="#000">{text}</text>;
}

function AxisTitle({ x, y, text, rotate }: { x: number; y: number; text: string; rotate?: boolean }) {
  return (
    <text x={x} y={y} textAnchor="middle" dominantBaseline="central" fontSize={16} fontWeight="bold" fontFamily={FONT} fill="#000"
      transform={rotate ? `rotate(-90 ${x} ${y})` : undefined}>{text}</text>
  );
}

function Legend() {
  const y = 763;
  const keys = [
    { x: 598.3, label: "Male", lx: 636.7 },
    { x: 676, label: "Female", lx: 713 },
  ];
  return (
    <g>
      <text x={528} y={y} dominantBaseline="central" fontSize={16} fontWeight="bold" fontFamily={FONT} fill="#000">Gender</text>
      {keys.map((k, g) => (
        <g key={g}>
          <rect x={k.x} y={y - 13.8} width={27.4} height={27.6} fill={GENDER_COLORS[g]} fillOpacity={0.3} />
          <line x1={k.x + 2.5} x2={k.x + 25} y1={y} y2={y} stroke={GENDER_COLORS[g]} strokeWidth={2.1} />
          <circle cx={k.x + 13.7} cy={y} r={2.7} fill={GENDER_COLORS[g]} />
          <text x={k.lx} y={y} dominantBaseline="central" fontSize={14} fontFamily={FONT} fill="#1a1a1a">{k.label}</text>
        </g>
      ))}
    </g>
  );
}

function ColorBar() {
  const x0 = 525, x1 = 770.7, y0 = 1574.3, h = 7.4;
  const cx = d3.scaleLinear().domain([HEAT_COLOR_DOMAIN[0], HEAT_COLOR_DOMAIN[2]]).range([x0, x1]);
  const stops = d3.range(0, 41).map((k) => HEAT_COLOR_DOMAIN[0] + ((HEAT_COLOR_DOMAIN[2] - HEAT_COLOR_DOMAIN[0]) * k) / 40);
  return (
    <g>
      <defs>
        <linearGradient id="cbar" x1="0" x2="1" y1="0" y2="0">
          {stops.map((v, k) => <stop key={k} offset={k / 40} stopColor={heatColor(v)} />)}
        </linearGradient>
      </defs>
      <rect x={x0} y={y0} width={x1 - x0} height={h} fill="url(#cbar)" />
      {LEGEND_TICKS.map((v) => (
        <g key={v}>
          <line x1={cx(v)} x2={cx(v)} y1={y0} y2={y0 + 1.5} stroke="#fff" strokeWidth={0.8} />
          <line x1={cx(v)} x2={cx(v)} y1={y0 + h - 1.5} y2={y0 + h} stroke="#fff" strokeWidth={0.8} />
          <text x={cx(v)} y={1595} textAnchor="middle" dominantBaseline="central" fontSize={14} fontFamily={FONT} fill="#1a1a1a">{v + "%"}</text>
        </g>
      ))}
    </g>
  );
}

export default function App() {
  return (
    <svg width={1244} height={1606} viewBox="0 0 1244 1606" style={{ position: "absolute", left: 0, top: 0, background: "#fff" }} xmlns="http://www.w3.org/2000/svg">
      <rect x={0} y={0} width={1244} height={1606} fill="#fff" />
      <Title y={13.5} text="Marginal Age pattern by Gender and Portfolio" />
      {PORTFOLIOS.map((_, p) => <AgePanel key={"age" + p} p={p} />)}
      <AxisTitle x={CENTER_X} y={346} text="x" />
      <AxisTitle x={14} y={173} text="rates (log-scale)" rotate />

      <Title y={380} text="Marginal Duration pattern by Gender and Portfolio" />
      {PORTFOLIOS.map((_, p) => <DurPanel key={"dur" + p} p={p} />)}
      <AxisTitle x={CENTER_X} y={711.5} text="z" />
      <AxisTitle x={10} y={545} text="relative risk" rotate />

      <Legend />

      <Title y={810} text="Age-Duration interaction pattern by Gender and Portfolio" />
      {d3.range(16).map((i) => <HeatPanel key={"heat" + i} idx={i} />)}
      <AxisTitle x={CENTER_X} y={1539.5} text="z" />
      <AxisTitle x={16} y={1172} text="relative risk" rotate />
      <ColorBar />
    </svg>
  );
}
